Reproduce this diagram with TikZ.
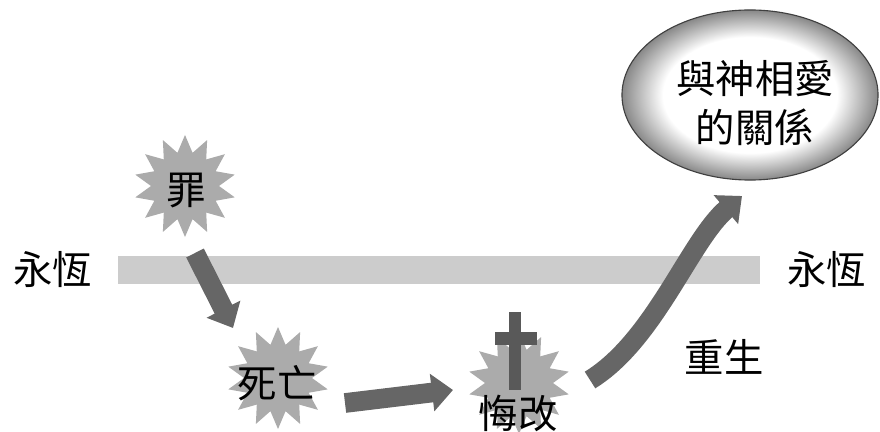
\documentclass[tikz,border=0pt]{standalone}
\usepackage{fontspec}
\newfontfamily\cjk{Noto Sans CJK TC}
\usetikzlibrary{shapes.geometric,arrows.meta,positioning}
\definecolor{bargray}{HTML}{CCCCCC}
\definecolor{stargray}{HTML}{ABABAB}
\definecolor{arrowgray}{HTML}{666666}
\definecolor{crossgray}{HTML}{595959}
\definecolor{rimgray}{HTML}{888888}
\pgfdeclareradialshading{ringshade}{\pgfpoint{0bp}{0bp}}{color(0bp)=(white); color(17bp)=(white); color(25bp)=(rimgray); color(50bp)=(rimgray)}
\tikzset{
  burst/.style={star,star points=14,star point ratio=1.5,fill=stargray,minimum size=2.55cm,inner sep=0pt},
  bigarrow/.style={draw=arrowgray,line width=14pt,-{Triangle[length=15pt,width=26pt]}},
  cjktext/.style={font=\cjk\fontsize{28}{35.5}\selectfont,inner sep=0pt}
}
\begin{document}
\begin{tikzpicture}[x=0.025cm,y=-0.025cm]
\useasboundingbox (0,0) rectangle (880,432);
\node[fill=bargray,minimum width=16.05cm,minimum height=0.7cm,inner sep=0pt] (bar) at (439,270) {};
\node[cjktext,left=18pt of bar] (eternityL) {永恆};
\node[cjktext,right=19pt of bar] (eternityR) {永恆};
\begin{scope}[every node/.style={burst}]
  \node (sin) at (185,186) {};
  \node (death) at (278,378) {};
  \node (repent) at (519,383) {};
\end{scope}
\fill[crossgray] (509,312) rectangle (521,390);
\fill[crossgray] (495,332) rectangle (537,345);
\node[cjktext] (sinlabel) at (186,191) {罪};
\node[cjktext] (deathlabel) at (277,383) {死亡};
\node[cjktext] (repentlabel) at (518,413) {悔改};
\node[cjktext] (reborn) at (724,357) {重生};
\node[ellipse,draw=black!75,line width=0.8pt,shading=ringshade,minimum width=6.4cm,minimum height=4.25cm,inner sep=0pt] (love) at (750,95) {};
\node[cjktext,align=center] (lovetext) at (755,103) {與神相愛\\的關係};
\coordinate (sinout) at (195,253);
\coordinate (deathin) at (233,328);
\coordinate (deathout) at (345,403);
\coordinate (repentin) at (453,390);
\coordinate (repentout) at (590,380);
\coordinate (lovein) at (742,196);
\draw[bigarrow] (sinout) -- (deathin);
\draw[bigarrow] (deathout) -- (repentin);
\draw[bigarrow] (repentout) .. controls (655,340) and (690,240) .. (lovein);
\end{tikzpicture}
\end{document}
